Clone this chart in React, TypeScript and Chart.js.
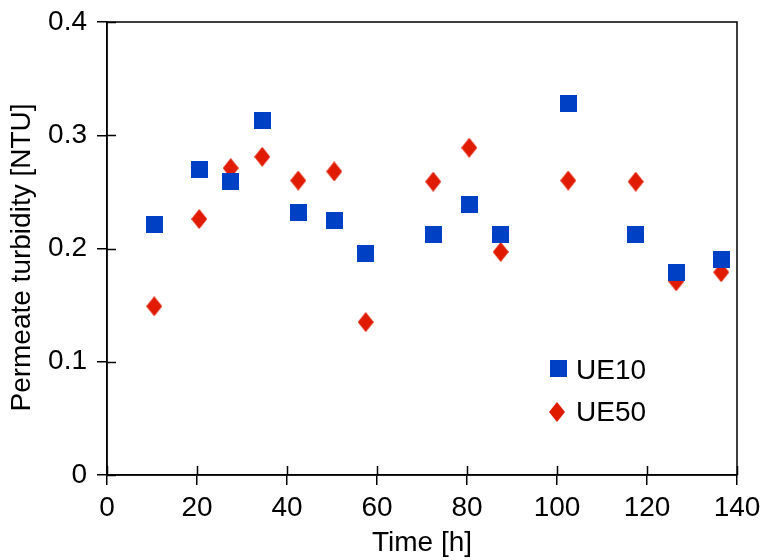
import React, { useEffect, useRef } from "react";
import { Chart, registerables } from "chart.js";
Chart.register(...registerables);

const timeH = [10.5, 20.5, 27.5, 34.5, 42.5, 50.5, 57.5, 72.5, 80.5, 87.5, 102.5, 117.5, 126.5, 136.5];
const ue10 = [0.221, 0.270, 0.259, 0.313, 0.232, 0.225, 0.196, 0.212, 0.239, 0.212, 0.328, 0.212, 0.179, 0.190];
const ue50 = [0.149, 0.226, 0.271, 0.281, 0.260, 0.268, 0.135, 0.259, 0.289, 0.197, 0.260, 0.259, 0.171, 0.179];
const seriesNames = ["UE10", "UE50"];
const xTitle = "Time [h]";
const yTitle = "Permeate turbidity [NTU]";

const BLUE = "#0040C4";
const RED = "#E01C00";
const FONT = "'Liberation Sans', Arial, sans-serif";
const FS = 28;

function makeSquare(): HTMLCanvasElement {
  const c = document.createElement("canvas");
  c.width = 17; c.height = 17;
  const g = c.getContext("2d")!;
  g.fillStyle = BLUE;
  g.fillRect(0, 0, 17, 17);
  return c;
}
function makeDiamond(): HTMLCanvasElement {
  const c = document.createElement("canvas");
  c.width = 16; c.height = 20;
  const g = c.getContext("2d")!;
  g.fillStyle = RED;
  g.beginPath();
  g.moveTo(8, 0); g.lineTo(16, 10); g.lineTo(8, 20); g.lineTo(0, 10);
  g.closePath(); g.fill();
  return c;
}

export default function App() {
  const ref = useRef<HTMLCanvasElement>(null);
  useEffect(() => {
    document.body.style.margin = "0";
    const sq = makeSquare();
    const di = makeDiamond();
    const framePlugin = {
      id: "frame",
      afterDraw(chart: any) {
        const { ctx, chartArea: a, scales } = chart;
        ctx.save();
        ctx.strokeStyle = "#000";
        ctx.lineWidth = 1.5;
        ctx.strokeRect(a.left, a.top, a.right - a.left, a.bottom - a.top);
        ctx.beginPath();
        scales.x.ticks.forEach((t: any) => {
          const px = Math.round(scales.x.getPixelForValue(t.value)) + 0.5;
          ctx.moveTo(px, a.bottom); ctx.lineTo(px, a.bottom - 9);
        });
        scales.y.ticks.forEach((t: any) => {
          const py = Math.round(scales.y.getPixelForValue(t.value)) + 0.5;
          ctx.moveTo(a.left, py); ctx.lineTo(a.left + 9, py);
        });
        ctx.stroke();
        // y axis title
        ctx.fillStyle = "#000";
        ctx.font = `${FS}px ${FONT}`;
        ctx.save();
        ctx.translate(22, (a.top + a.bottom) / 2 + 9);
        ctx.rotate(-Math.PI / 2);
        ctx.textAlign = "center";
        ctx.textBaseline = "middle";
        ctx.fillText(yTitle, 0, 0);
        ctx.restore();
        // legend
        const lx = a.left + 451;
        const ly = a.top + 346;
        ctx.drawImage(sq, lx - 8.5, ly - 8.5);
        ctx.drawImage(di, lx - 9, ly + 44 - 10);
        ctx.textBaseline = "middle";
        ctx.textAlign = "left";
        ctx.fillText(seriesNames[0], lx + 18, ly + 3);
        ctx.fillText(seriesNames[1], lx + 18, ly + 45);
        ctx.restore();
      },
    };
    const zeroPad = (s: any) => {
      s.paddingTop = 0; s.paddingBottom = 0; s.paddingLeft = 0; s.paddingRight = 0;
    };
    const chart = new Chart(ref.current!, {
      type: "scatter",
      data: {
        datasets: [
          {
            label: seriesNames[0],
            data: timeH.map((x, i) => ({ x, y: ue10[i] })),
            pointStyle: sq as any,
            backgroundColor: BLUE,
          },
          {
            label: seriesNames[1],
            data: timeH.map((x, i) => ({ x, y: ue50[i] })),
            pointStyle: di as any,
            backgroundColor: RED,
          },
        ],
      },
      options: {
        animation: false,
        responsive: false,
        events: [],
        layout: { padding: { left: 0, top: 22, right: 24, bottom: 0 } },
        plugins: { legend: { display: false }, tooltip: { enabled: false } },
        scales: {
          x: {
            type: "linear",
            min: 0,
            max: 140,
            afterFit: (s: any) => { s.height = 85; zeroPad(s); },
            ticks: { stepSize: 20, color: "#000", font: { family: FONT, size: FS }, padding: 6, maxRotation: 0 },
            grid: { drawOnChartArea: false, tickLength: 10, color: "#000", lineWidth: 1.5 },
            border: { display: true, color: "#000", width: 1.5 },
            title: { display: true, text: xTitle, color: "#000", font: { family: FONT, size: FS }, padding: { top: 0, bottom: 0 } },
          },
          y: {
            type: "linear",
            min: 0,
            max: 0.4,
            afterFit: (s: any) => { s.width = 107; zeroPad(s); },
            ticks: {
              stepSize: 0.1,
              color: "#000",
              font: { family: FONT, size: FS },
              padding: 10,
              callback: (v: any) => (Number(v) === 0 ? "0" : Number(v).toFixed(1)),
            },
            grid: { drawOnChartArea: false, tickLength: 10, color: "#000", lineWidth: 1.5 },
            border: { display: true, color: "#000", width: 1.5 },
            title: { display: false, text: yTitle },
          },
        },
      },
      plugins: [framePlugin],
    });
    return () => chart.destroy();
  }, []);
  return (
    <div style={{ width: 761, height: 560, background: "#fff" }}>
      <canvas ref={ref} width={761} height={560} style={{ display: "block" }} />
    </div>
  );
}
